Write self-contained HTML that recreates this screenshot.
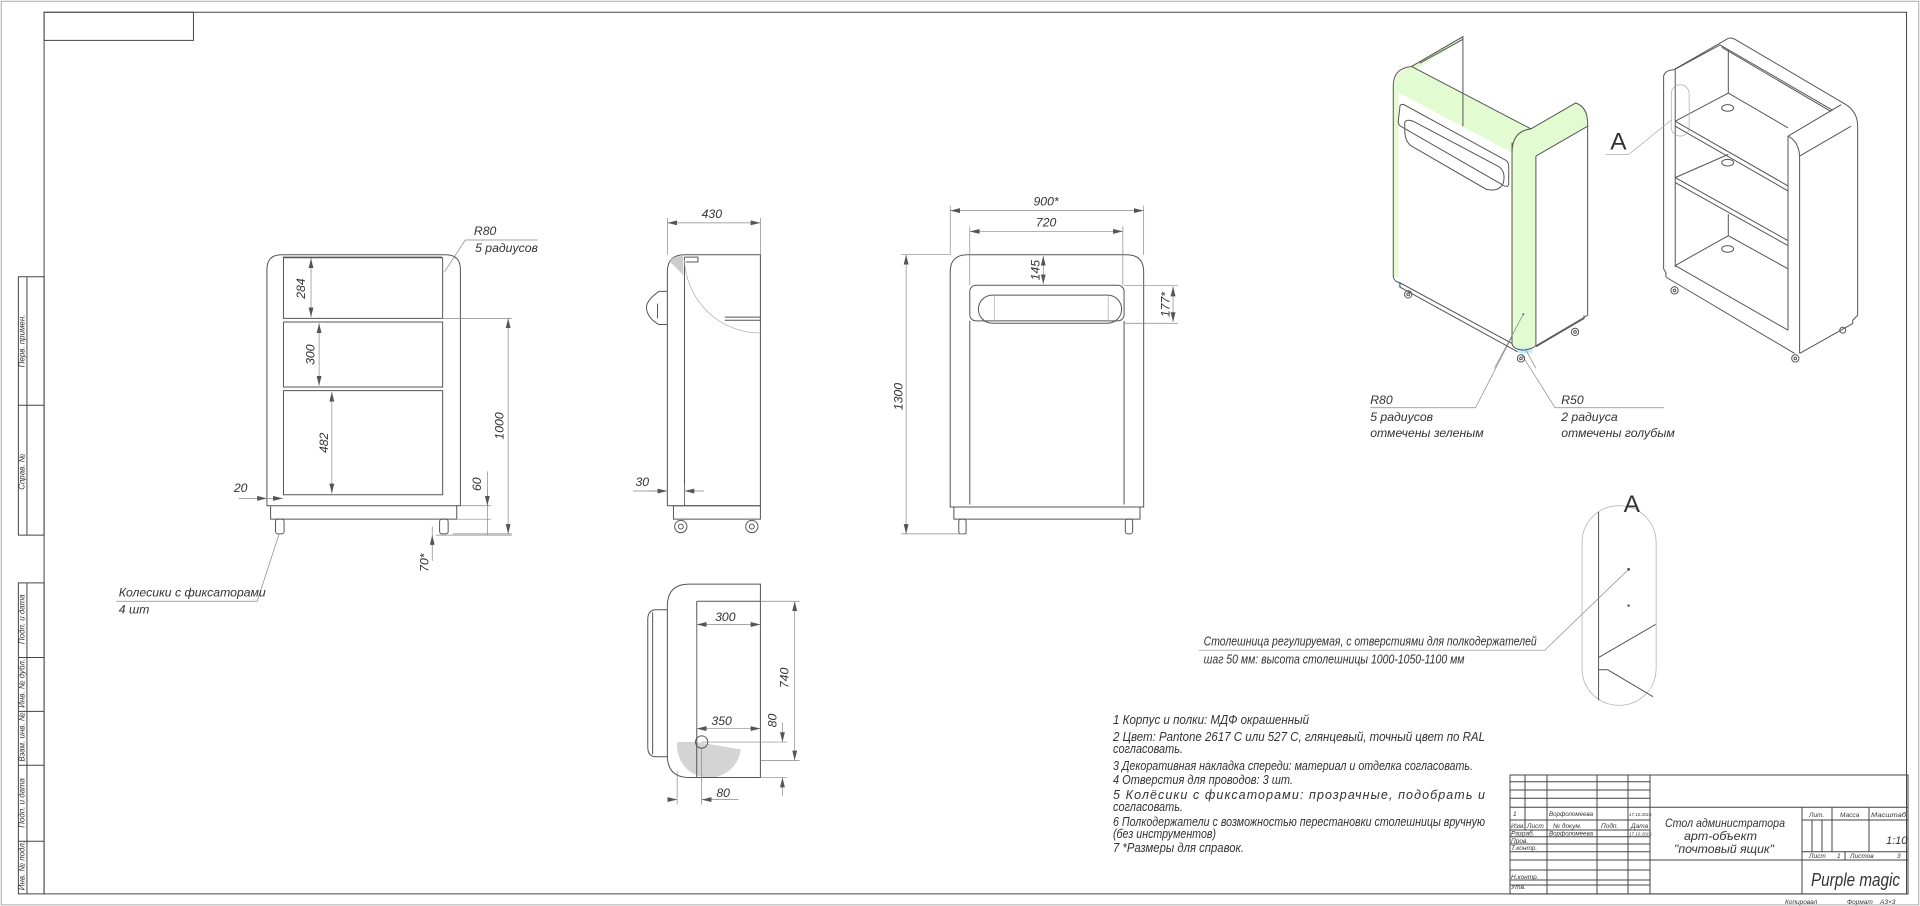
<!DOCTYPE html>
<html><head><meta charset="utf-8"><style>
html,body{margin:0;padding:0;background:#fff;}
svg{display:block;}
svg *{vector-effect:non-scaling-stroke;}
text{font-family:"Liberation Sans","DejaVu Sans",sans-serif;font-style:italic;fill:#333;stroke:none;}
.l{fill:none;stroke:#555;stroke-width:1;}
.t{fill:none;stroke:#444;stroke-width:1;}
.d{fill:none;stroke:#888;stroke-width:0.7;}
.dm{fill:none;stroke:#888;stroke-width:0.7;marker-start:url(#ar);marker-end:url(#ar);}
.g{fill:none;stroke:#aaa;stroke-width:0.7;}
</style></head><body>
<svg width="1920" height="906" viewBox="0 0 1920 906" xmlns="http://www.w3.org/2000/svg">
<defs>
<marker id="ar" markerUnits="userSpaceOnUse" markerWidth="8" markerHeight="4" refX="8" refY="2" orient="auto-start-reverse"><path d="M0,0 L8,2 L0,4 Z" fill="#555"/></marker>
</defs>
<rect width="1920" height="906" fill="#fff"/>
<g transform="scale(1.22449)">
<rect x="1" y="1" width="1566" height="738" fill="none" stroke="#aaa" stroke-width="1"/>
<rect x="36" y="10" width="1521" height="720" class="t"/>
<rect x="36" y="10" width="122" height="23" class="t"/>
<rect x="15" y="226" width="21" height="211" class="t"/>
<rect x="15" y="476" width="21" height="254" class="t"/>
<path class="t" d="M15,331H36 M15,537H36 M15,581H36 M15,625H36 M15,687H36 M22,226V437 M22,476V730"/>
<g font-size="6.5">
<text transform="translate(20,300) rotate(-90)">Перв. примен.</text>
<text transform="translate(20,400) rotate(-90)">Справ. №</text>
<text transform="translate(20,526) rotate(-90)">Подп. и дата</text>
<text transform="translate(20,578) rotate(-90)">Инв. № дубл.</text>
<text transform="translate(20,622) rotate(-90)">Взам. инв. №</text>
<text transform="translate(20,676) rotate(-90)">Подп. и дата</text>
<text transform="translate(20,727) rotate(-90)">Инв. № подл.</text>
</g>

<!-- FRONT VIEW LEFT -->
<path class="l" d="M218,220 Q218,208 230,208 H364 Q376,208 376,220 V413 H373 V424 H221 V413 H218 Z"/>
<path class="l" d="M231,210H361 M221,413H373"/>
<rect x="231.5" y="210.5" width="130" height="49.5" class="l"/>
<rect x="231.5" y="263" width="130" height="53" class="l"/>
<rect x="231.5" y="319" width="130" height="85" class="l"/>
<rect x="225" y="424" width="7" height="12" rx="2" class="l"/>
<rect x="359" y="424" width="7" height="12" rx="2" class="l"/>
<path class="d" d="M361,260H418 M370,436H418 M376,413H401 M373,424H401 M398,385V437 M353,430V458 M195,407H217 M356,437H418"/>
<line class="dm" x1="415" y1="260" x2="415" y2="436"/>
<line class="dm" x1="254" y1="211" x2="254" y2="259"/>
<line class="dm" x1="260.6" y1="264" x2="260.6" y2="315"/>
<line class="dm" x1="271" y1="320" x2="271" y2="403"/>
<path class="d" d="M218,407 L231,407" style="marker-end:url(#ar)"/>
<path class="d" d="M210,407 L218,407" style="marker-end:url(#ar)"/>
<path class="d" d="M398,398 L398,413" style="marker-end:url(#ar)"/>
<path class="d" d="M353,446 L353,437" style="marker-end:url(#ar)"/>
<path class="d" d="M363,222 L380,196 H439"/>
<path class="d" d="M228,436 L210,491 H95"/>
<g font-size="10">
<text transform="translate(249,244) rotate(-90)">284</text>
<text transform="translate(257,298) rotate(-90)">300</text>
<text transform="translate(268,370) rotate(-90)">482</text>
<text transform="translate(411,359) rotate(-90)">1000</text>
<text transform="translate(393,401) rotate(-90)">60</text>
<text transform="translate(350,467) rotate(-90)">70*</text>
<text x="191" y="402">20</text>
<text x="387" y="192">R80</text>
<text x="388" y="206">5 радиусов</text>
<text x="97" y="487">Колесики с фиксаторами</text>
<text x="97" y="501">4 шт</text>
</g>

<!-- SIDE VIEW -->
<path class="l" d="M545,222 Q545,208 559,208 H621 V413 H545 Z"/>
<path class="l" d="M559,210 V413 M549,413 H621 M550,413 V424 H621 V413 M559,210 H570 V214 H560"/>
<path d="M547,214 Q549,209 558,209 V225 Q552,218 547,214 Z" fill="#ccc"/>
<path class="g" d="M559,212 A62,62 0 0 0 621,272"/>
<path class="l" d="M592,259 H621 M592,261.5 H621"/>
<path class="l" d="M545,238 H538 Q527,246 528,252 Q529,260 538,265 H545 M537,248 V260"/>
<circle cx="556" cy="430" r="5" class="l"/><circle cx="556" cy="430" r="2" class="l"/>
<circle cx="614" cy="430" r="5" class="l"/><circle cx="614" cy="430" r="2" class="l"/>
<path class="d" d="M545,178V208 M621,178V208 M559,396V412 M517,401H545"/>
<line class="dm" x1="545" y1="182" x2="621" y2="182"/>
<path class="d" d="M530,401 L545,401" style="marker-end:url(#ar)"/>
<path class="d" d="M575,401 L559,401" style="marker-end:url(#ar)"/>
<g font-size="10"><text x="573" y="178">430</text><text x="519" y="397">30</text></g>

<!-- TOP VIEW -->
<path d="M553,606 A26,26 0 0 0 605,612 L569,606 Z" fill="#d4d4d4"/>
<path class="l" d="M545,495 Q545,477 563,477 H621 V635 H563 Q545,635 545,617 Z"/>
<path class="l" d="M569,491 V635 M569,491 H621"/>
<path class="l" d="M545,498 H536 Q529,498 529,506 V610 Q529,618 536,618 H545 M533,500 V616"/>
<circle cx="573" cy="606" r="5" class="l"/>
<path class="d" d="M621,491 H653 M621,621 H653 M573,606 H643 M621,635 H643 M553,630 V657 M573,611 V657 M569,506 V595"/>
<line class="dm" x1="569" y1="510" x2="621" y2="510"/>
<line class="dm" x1="649" y1="491" x2="649" y2="621"/>
<line class="dm" x1="569" y1="595" x2="621" y2="595"/>
<path class="d" d="M639,590 L639,606" style="marker-end:url(#ar)"/>
<path class="d" d="M639,650 L639,635" style="marker-end:url(#ar)"/>
<path class="d" d="M545,653 L553,653" style="marker-end:url(#ar)"/>
<path class="d" d="M603,653 L573,653" style="marker-end:url(#ar)"/>
<g font-size="10">
<text x="584" y="507">300</text>
<text transform="translate(644,562) rotate(-90)">740</text>
<text x="581" y="592">350</text>
<text transform="translate(634,594) rotate(-90)">80</text>
<text x="585" y="651">80</text>
</g>

<!-- FRONT VIEW MIDDLE -->
<path class="l" d="M776,222 Q776,208 790,208 H920 Q934,208 934,222 V414 H931 V424 H779 V414 H776 Z"/>
<path class="l" d="M776,414 H934 M792,262 V412 M918,262 V412"/>
<rect x="792" y="233" width="126" height="29" rx="5" class="l"/>
<rect x="799" y="241" width="117" height="23" rx="11.5" class="l"/>
<path class="g" d="M812,241 V264 M905,241 V264"/>
<rect x="783" y="424" width="6" height="12" rx="2" class="l"/>
<rect x="919" y="424" width="6" height="12" rx="2" class="l"/>
<path class="d" d="M776,168V208 M934,168V208 M792,185V233 M917,185V233 M918,233 H962 M918,264 H962 M736,208 H776 M736,436 H790"/>
<line class="dm" x1="776" y1="172" x2="934" y2="172"/>
<line class="dm" x1="792" y1="189" x2="917" y2="189"/>
<line class="dm" x1="852" y1="209" x2="852" y2="232"/>
<line class="dm" x1="958" y1="234" x2="958" y2="263"/>
<line class="dm" x1="740" y1="208" x2="740" y2="436"/>
<g font-size="10">
<text x="844" y="168">900*</text>
<text x="846" y="185">720</text>
<text transform="translate(849,229) rotate(-90)">145</text>
<text transform="translate(955,259) rotate(-90)">177*</text>
<text transform="translate(737,335) rotate(-90)">1300</text>
</g>

<path class="d" d="M1244,257 L1205,333 H1119 M1243,290 L1270,333 H1359"/>
<g font-size="10">
<text x="1119" y="330">R80</text>
<text x="1119" y="344">5 радиусов</text>
<text x="1119" y="357">отмечены зеленым</text>
<text x="1275" y="330">R50</text>
<text x="1275" y="344">2 радиуса</text>
<text x="1275" y="357">отмечены голубым</text>
</g>
<text x="1315" y="122" font-size="20" style="font-style:normal">A</text>

<g transform="translate(1127,24.5) scale(0.2709)">
 <g fill="#e3fbd0" stroke="none">
  <path d="M40,180 Q45,115 100,112 L458,300 Q400,315 398,370 Z"/>
  <path d="M90,112 L248,20 L252,28 L110,118 Z"/>
  <path d="M40,175 L56,178 L56,745 L40,745 Z"/>
  <path d="M440,305 L590,220 Q626,232 626,262 L626,290 L470,380 L440,340 Z"/>
  <path d="M398,360 Q400,300 455,298 Q470,320 470,370 L470,940 Q462,962 430,963 Q400,960 398,940 Z"/>
 </g>
 <g fill="#c6eef8" stroke="none">
  <path d="M55,757 L64,760 L64,780 L55,777 Z"/>
  <path d="M412,958 L460,958 L460,975 L420,975 Z"/>
 </g>
 <g class="l">
  <path d="M40,745 L40,165 Q42,115 95,110 L250,20 L250,290"/>
  <path d="M95,110 L455,298 M120,100 L250,28"/>
  <path d="M455,298 L590,220 Q628,232 626,290 L626,860 L470,952"/>
  <path d="M398,370 Q398,305 455,298 M470,380 L626,290"/>
  <path d="M470,380 L470,950 M398,340 L398,945 Q400,962 430,965 Q462,962 470,950"/>
  <path d="M40,745 Q45,760 60,762 L398,945 M60,762 L60,775 L415,970 M470,955 L615,870 L615,860"/>
  <path d="M60,232 Q60,222 72,225 L378,392 Q388,398 388,410 L388,462 Q388,475 375,470 L62,290 Q55,285 55,275 Z"/>
  <path d="M75,290 Q70,265 100,275 L355,410 Q380,425 372,460 Q360,490 320,480 L95,350 Q72,335 75,290 Z"/>
  <circle cx="85" cy="797" r="11"/><circle cx="85" cy="797" r="4"/>
  <circle cx="425" cy="990" r="11"/><circle cx="425" cy="990" r="4"/>
  <circle cx="588" cy="910" r="11"/><circle cx="588" cy="910" r="4"/>
 </g>
 <circle cx="432" cy="857" r="3" fill="#555"/>
 <path class="d" d="M432,857 L345,1020 M440,965 L470,1020"/>
 <g class="l">
  <path d="M855,720 L855,140 Q858,122 885,120 M890,118 L890,715 M855,720 L862,732 L862,745"/>
  <path d="M885,120 L1050,25 Q1060,22 1070,28 L1400,222 Q1440,245 1440,290 L1440,860 L1425,875 L1425,885 L1265,975"/>
  <path d="M890,118 L1025,45 L1365,242 M1030,52 L1360,246 M1050,60 L1050,190"/>
  <path d="M1230,320 L1390,225 M1230,320 L1230,905 M1230,320 Q1262,335 1265,380 L1265,975 M1265,380 L1420,290"/>
  <path d="M862,745 L1250,975"/>
  <path d="M890,275 L1230,470 M890,290 L1230,485 M890,445 L1230,635 M890,460 L1230,650 M890,710 L1230,905"/>
  <path d="M890,275 L1050,190 L1230,295 M890,445 L1050,375 M890,710 L1050,620 L1230,720 M1050,555 L1050,620"/>
  <ellipse cx="1048" cy="235" rx="18" ry="10"/><ellipse cx="1048" cy="400" rx="18" ry="10"/><ellipse cx="1048" cy="660" rx="18" ry="10"/>
  <circle cx="888" cy="785" r="11"/><circle cx="888" cy="785" r="4"/>
  <circle cx="1252" cy="990" r="11"/><circle cx="1252" cy="990" r="4"/>
  <circle cx="1395" cy="905" r="9"/>
 </g>
 <rect x="878" y="165" width="54" height="155" rx="27" class="g"/>
 <path class="g" d="M880,270 L750,375 L680,375"/>
</g>

<rect x="1292" y="413" width="60.5" height="163" rx="30" class="g"/>
<path class="l" d="M1305.5,418 V572 M1305.5,537 L1352,510 M1305.5,547 H1313 L1350,569"/>
<circle cx="1330" cy="465" r="1.2" fill="#555"/><circle cx="1330" cy="494.6" r="1" fill="#555"/>
<text x="1326" y="418" font-size="20" style="font-style:normal">A</text>
<path class="d" d="M1330,465 L1261.5,531 H979"/>
<g font-size="10.5">
<text x="983" y="527" textLength="272" lengthAdjust="spacingAndGlyphs">Столешница регулируемая, с отверстиями для полкодержателей</text>
<text x="983" y="542" textLength="213" lengthAdjust="spacingAndGlyphs">шаг 50 мм: высота столешницы 1000-1050-1100 мм</text>
</g>
</g>

<!-- NOTES -->
<g font-size="12.5">
<text x="1113" y="724" textLength="196" lengthAdjust="spacingAndGlyphs">1 Корпус и полки: МДФ окрашенный</text>
<text x="1113" y="741" textLength="372" lengthAdjust="spacingAndGlyphs">2 Цвет: Pantone 2617 C или 527 C, глянцевый, точный цвет по RAL</text>
<text x="1113" y="753" textLength="70" lengthAdjust="spacingAndGlyphs">согласовать.</text>
<text x="1113" y="770" textLength="360" lengthAdjust="spacingAndGlyphs">3 Декоративная накладка спереди: материал и отделка согласовать.</text>
<text x="1113" y="784" textLength="180" lengthAdjust="spacingAndGlyphs">4 Отверстия для проводов: 3 шт.</text>
<text x="1113" y="799" textLength="372" lengthAdjust="spacing">5 Колёсики с фиксаторами: прозрачные, подобрать и</text>
<text x="1113" y="811" textLength="70" lengthAdjust="spacingAndGlyphs">согласовать.</text>
<text x="1113" y="826" textLength="372" lengthAdjust="spacingAndGlyphs">6 Полкодержатели с возможностью перестановки столешницы вручную</text>
<text x="1113" y="838" textLength="103" lengthAdjust="spacingAndGlyphs">(без инструментов)</text>
<text x="1113" y="852" textLength="131" lengthAdjust="spacingAndGlyphs">7 *Размеры для справок.</text>
</g>

<!-- TITLE BLOCK -->
<g class="t">
<rect x="1510" y="775" width="398" height="119"/>
<path d="M1525,775V830 M1547,775V894 M1597,775V894 M1628,775V894 M1650,775V894"/>
<path d="M1510,781.7H1650 M1510,790H1650 M1510,798.3H1650 M1510,807.3H1908 M1510,820H1650 M1510,830H1650 M1510,836.7H1650 M1510,844H1650 M1510,851.7H1650 M1510,860H1908 M1510,870H1650 M1510,880H1650 M1510,885H1650"/>
<path d="M1802,807.3V894 M1802,820H1908 M1802,851.7H1908 M1832,807.3V851.7 M1869,807.3V851.7 M1812,820V851.7 M1822,820V851.7 M1845,851.7V860"/>
</g>
<g font-size="6.5">
<text x="1513" y="816">1</text><text x="1549" y="816" textLength="44" lengthAdjust="spacingAndGlyphs">Ворфоломеева</text><text x="1629" y="816" font-size="4.5">17.10.2015</text>
<text x="1511" y="828">Изм.</text><text x="1527" y="828">Лист</text><text x="1553" y="828">№ докум.</text><text x="1601" y="828">Подп.</text><text x="1631" y="828">Дата</text>
<text x="1511" y="835.5">Разраб.</text><text x="1549" y="835.5" textLength="44" lengthAdjust="spacingAndGlyphs">Ворфоломеева</text><text x="1629" y="835.5" font-size="4.5">17.10.2015</text>
<text x="1511" y="843">Пров.</text><text x="1511" y="850">Т.контр.</text>
<text x="1511" y="879">Н.контр.</text><text x="1511" y="889">Утв.</text>
<text x="1809" y="817">Лит.</text><text x="1840" y="817">Масса</text><text x="1871" y="817" textLength="35" lengthAdjust="spacingAndGlyphs">Масштаб</text>
<text x="1809" y="858">Лист</text><text x="1837" y="858">1</text><text x="1850" y="858">Листов</text><text x="1897" y="858">3</text>
<text x="1785" y="904">Копировал</text><text x="1847" y="904">Формат</text><text x="1880" y="904">А3×3</text>
</g>
<text x="1886" y="844" font-size="11">1:10</text>
<g font-size="12">
<text x="1665" y="827" textLength="120" lengthAdjust="spacingAndGlyphs">Стол администратора</text>
<text x="1684" y="840" textLength="73" lengthAdjust="spacingAndGlyphs">арт-объект</text>
<text x="1674" y="853" textLength="100" lengthAdjust="spacingAndGlyphs">"почтовый ящик"</text>
</g>
<text x="1811" y="886" font-size="18" textLength="89" lengthAdjust="spacingAndGlyphs">Purple magic</text>
</svg>
</body></html>
